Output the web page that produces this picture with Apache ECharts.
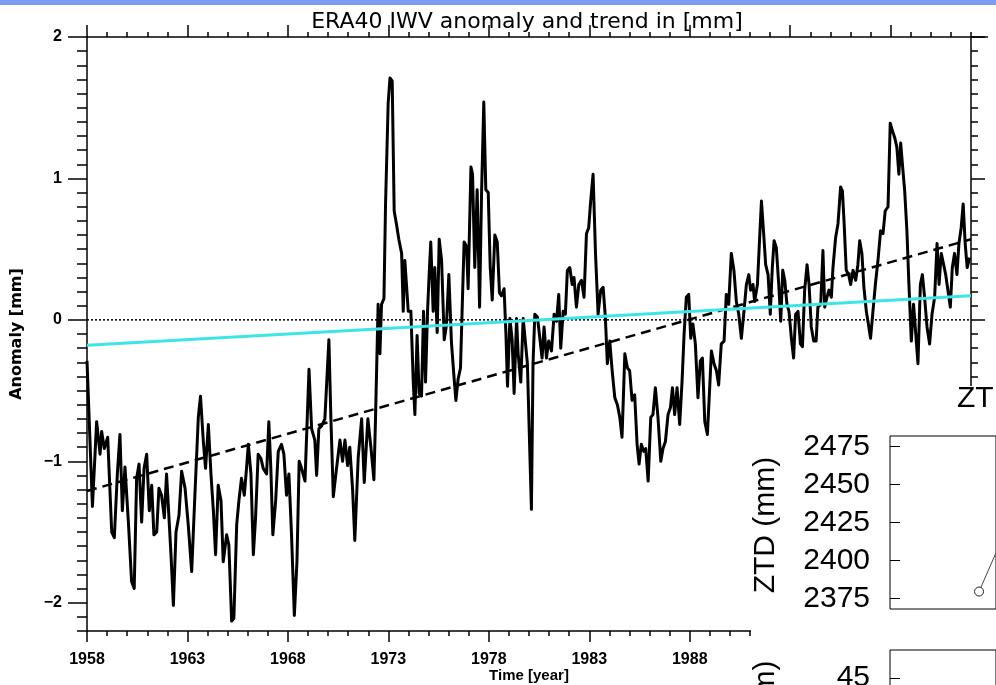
<!DOCTYPE html>
<html><head><meta charset="utf-8">
<script src="https://cdn.jsdelivr.net/npm/echarts@6/dist/echarts.min.js"></script>
<style>html,body{margin:0;padding:0;background:#fff}#c{width:996px;height:685px}</style>
</head><body><div id="c"></div>
<script>
// ERA40 IWV monthly anomaly [year, mm]
const seg1958 = [[1958.00,-0.29],[1958.27,-1.32],[1958.48,-0.72],[1958.65,-0.95],[1958.73,-0.79],[1958.86,-0.91],[1959.03,-0.83],[1959.23,-1.50],[1959.36,-1.54],[1959.51,-1.09],[1959.64,-0.81],[1959.76,-1.35],[1959.89,-1.04],[1960.06,-1.43],[1960.22,-1.85],[1960.35,-1.90],[1960.47,-1.12],[1960.59,-1.02],[1960.72,-1.43],[1960.84,-1.05],[1960.97,-0.95],[1961.10,-1.35],[1961.22,-1.17],[1961.33,-1.52],[1961.47,-1.50],[1961.58,-1.19],[1961.71,-1.24],[1961.85,-1.40],[1961.96,-1.09],[1962.08,-1.40],[1962.18,-1.66],[1962.30,-2.02],[1962.43,-1.50],[1962.58,-1.38],[1962.71,-1.07],[1962.88,-1.19],[1963.04,-1.45],[1963.21,-1.78],[1963.37,-1.24],[1963.54,-0.69],[1963.65,-0.54],[1963.79,-0.86],[1963.90,-1.05],[1964.04,-0.74],[1964.17,-1.09],[1964.29,-1.35],[1964.40,-1.66],[1964.53,-1.17],[1964.67,-1.28],[1964.78,-1.71],[1964.95,-1.52],[1965.06,-1.59],[1965.20,-2.13],[1965.31,-2.11],[1965.45,-1.45],[1965.56,-1.28],[1965.69,-1.12],[1965.83,-1.24],[1965.94,-1.05],[1966.03,-0.88],[1966.16,-1.09],[1966.28,-1.66],[1966.39,-1.40],[1966.52,-0.95],[1966.66,-0.98],[1966.77,-1.05],[1966.94,-1.09],[1967.05,-0.72],[1967.15,-1.05],[1967.25,-1.52],[1967.39,-1.28],[1967.52,-0.93],[1967.68,-0.88],[1967.80,-0.95],[1967.93,-1.24],[1968.05,-1.09],[1968.18,-1.52],[1968.32,-2.09],[1968.45,-1.71],[1968.56,-1.00],[1968.68,-1.05],[1968.85,-1.14]];
const seg1969 = [[1969.05,-0.35],[1969.18,-0.77],[1969.34,-0.85],[1969.43,-1.10],[1969.54,-0.77],[1969.68,-0.75],[1969.84,-0.70],[1970.04,-0.14],[1970.14,-0.70],[1970.26,-1.25],[1970.42,-1.05],[1970.59,-0.85],[1970.72,-1.00],[1970.84,-0.85],[1970.97,-1.03],[1971.08,-0.90],[1971.22,-1.20],[1971.33,-1.56],[1971.50,-0.97],[1971.67,-0.70],[1971.80,-1.15],[1971.91,-0.87],[1971.98,-0.70],[1972.13,-0.90],[1972.28,-1.13],[1972.36,-0.70],[1972.49,0.11],[1972.58,-0.24],[1972.66,0.11],[1972.78,0.15],[1972.86,0.82],[1972.99,1.53],[1973.08,1.71],[1973.19,1.69],[1973.29,0.77],[1973.41,0.67],[1973.52,0.57],[1973.66,0.47],[1973.74,0.06],[1973.82,0.42],[1973.90,0.42],[1973.99,0.06],[1974.12,0.06],[1974.24,-0.44],[1974.32,-0.67],[1974.43,-0.11],[1974.53,-0.52],[1974.65,-0.54],[1974.75,0.06],[1974.85,-0.44],[1974.95,0.06],[1975.03,0.32],[1975.11,0.55],[1975.23,0.06],[1975.31,0.37],[1975.43,-0.09],[1975.53,0.57],[1975.65,0.42],[1975.78,-0.14],[1975.89,-0.04],[1976.01,0.32],[1976.14,-0.16],[1976.26,-0.39],[1976.36,-0.57],[1976.47,-0.42],[1976.59,-0.34],[1976.67,0.06],[1976.77,0.55],[1976.89,0.52],[1976.97,0.22],[1977.11,1.08],[1977.19,1.03],[1977.30,0.37],[1977.42,0.92],[1977.54,0.09],[1977.64,0.90],[1977.75,1.54],[1977.85,0.92],[1977.97,0.90],[1978.07,0.37],[1978.17,0.14],[1978.30,0.60],[1978.42,0.55],[1978.53,0.19],[1978.63,0.17],[1978.76,0.22],[1978.85,-0.09],[1978.93,-0.47],[1979.05,0.01],[1979.16,-0.14],[1979.26,-0.52],[1979.38,0.01],[1979.46,-0.24],[1979.59,-0.44],[1979.71,0.01]];
const seg1980 = [[1979.92,-0.31],[1980.04,-0.93],[1980.12,-1.34],[1980.20,-0.31],[1980.29,0.04],[1980.42,0.02],[1980.54,-0.13],[1980.65,-0.27],[1980.75,-0.05],[1980.87,-0.27],[1980.98,-0.15],[1981.12,-0.22],[1981.25,0.04],[1981.37,-0.01],[1981.48,0.18],[1981.58,-0.20],[1981.70,0.06],[1981.81,0.04],[1981.91,0.35],[1982.03,0.37],[1982.15,0.25],[1982.24,0.30],[1982.36,0.09],[1982.48,0.25],[1982.61,0.28],[1982.74,0.16],[1982.86,0.61],[1982.97,0.65],[1983.07,0.84],[1983.19,1.03],[1983.31,0.47],[1983.44,0.04],[1983.57,0.21],[1983.69,0.23],[1983.80,0.02],[1983.90,-0.31],[1984.02,-0.15],[1984.14,-0.36],[1984.27,-0.55],[1984.40,-0.60],[1984.52,-0.69],[1984.63,-0.83],[1984.77,-0.24],[1984.90,-0.34],[1985.01,-0.36],[1985.13,-0.57],[1985.26,-0.53],[1985.38,-0.88],[1985.48,-1.02],[1985.59,-0.88],[1985.71,-0.93],[1985.81,-0.91],[1985.93,-1.14],[1986.06,-0.69],[1986.17,-0.67],[1986.29,-0.48],[1986.42,-0.69],[1986.56,-1.00],[1986.67,-0.91],[1986.79,-0.86],[1986.92,-0.67],[1987.04,-0.62],[1987.14,-0.48],[1987.25,-0.67],[1987.37,-0.48],[1987.50,-0.74],[1987.62,-0.43],[1987.72,-0.10],[1987.83,0.16],[1987.95,0.18],[1988.05,-0.13],[1988.16,-0.03],[1988.28,-0.17],[1988.41,-0.55],[1988.53,-0.29],[1988.63,-0.27],[1988.75,-0.72],[1988.88,-0.81],[1989.00,-0.46],[1989.08,-0.22],[1989.21,-0.31],[1989.33,-0.36],[1989.44,-0.46],[1989.57,-0.17],[1989.71,-0.15],[1989.82,0.18],[1989.94,0.11],[1990.07,0.47],[1990.20,0.35],[1990.32,0.13],[1990.44,0.04],[1990.57,-0.13],[1990.70,0.06],[1990.82,0.25]];
const seg1991 = [[1990.94,0.32],[1991.03,0.21],[1991.15,0.25],[1991.23,0.13],[1991.37,0.25],[1991.48,0.58],[1991.57,0.84],[1991.68,0.61],[1991.78,0.39],[1991.90,0.32],[1992.01,0.04],[1992.11,0.37],[1992.20,0.56],[1992.31,0.51],[1992.43,0.25],[1992.53,-0.01],[1992.63,0.35],[1992.73,0.28],[1992.84,0.11],[1992.94,0.06],[1993.06,-0.13],[1993.17,-0.27],[1993.27,0.04],[1993.39,0.06],[1993.51,-0.17],[1993.61,-0.19],[1993.72,0.21],[1993.84,0.39],[1993.94,0.25],[1994.05,-0.05],[1994.17,-0.15],[1994.29,-0.15],[1994.38,0.09],[1994.52,0.11],[1994.63,0.49],[1994.72,0.09],[1994.83,0.16],[1994.93,0.21],[1995.05,0.16],[1995.13,0.37],[1995.26,0.58],[1995.38,0.68],[1995.51,0.94],[1995.60,0.91],[1995.68,0.70],[1995.79,0.35],[1995.91,0.32],[1996.01,0.25],[1996.13,0.35],[1996.26,0.28],[1996.37,0.39],[1996.46,0.56],[1996.57,0.47],[1996.67,0.23],[1996.79,0.06],[1996.87,-0.01],[1997.00,-0.13],[1997.12,0.06],[1997.24,0.25],[1997.37,0.42],[1997.50,0.63],[1997.62,0.61],[1997.73,0.77],[1997.87,0.80],[1997.98,1.39],[1998.08,1.34],[1998.20,1.29],[1998.31,1.22],[1998.41,1.03],[1998.50,1.25],[1998.61,1.06],[1998.70,0.91],[1998.81,0.63],[1998.91,0.25],[1999.03,-0.15],[1999.14,0.11],[1999.24,-0.08],[1999.36,-0.31],[1999.48,0.25],[1999.58,0.32],[1999.69,0.16],[1999.81,-0.05],[1999.94,-0.17],[2000.06,0.04],[2000.19,0.16],[2000.31,0.54],[2000.41,0.25],[2000.52,0.47],[2000.64,0.39],[2000.74,0.32],[2000.85,0.21],[2000.97,0.09],[2001.07,0.37],[2001.18,0.47],[2001.30,0.32],[2001.40,0.54],[2001.51,0.65],[2001.61,0.82],[2001.71,0.54],[2001.81,0.37],[2001.93,0.44]];

const eraTrend  = [[1958,-1.21],[2002,0.57]];   // dashed linear trend
const cyanTrend = [[1958,-0.18],[2002,0.17]];   // cyan trend
const zeroLine  = [[1958,0],[2002,0]];

const xMajorTicks = [1958,1963,1968,1973,1978,1983,1988,1993,1998];
const yMajorTicks = [-2,-1,0,1,2];

// overlapping second figure (ZTD panel, partly visible)
const ztdTicks = [2375,2400,2425,2450,2475];
const ztdPoints = [[10.08,2379.5],[12,2405]];
const lowerTicks = [45];

const xMinorTicks = []; for (let y = 1958; y <= 2002; y++) xMinorTicks.push(y);
const yMinorTicks = []; for (let i = -22; i <= 20; i++) yMinorTicks.push(i / 10);

const iwvData = seg1958.concat(seg1969, seg1980, seg1991);

const BLK = '#000';
const tickFont = {fontFamily: 'Liberation Sans', fontWeight: 'bold', fontSize: 16, color: BLK};
const plain = v => String(v);
function xAx(pos, ticks, len, opts) {
  return Object.assign({
    gridIndex: 0, type: 'value', min: 1958, max: 2002, position: pos,
    axisLine: {show: false, onZero: false, lineStyle: {color: BLK, width: 1.5}},
    axisTick: {show: true, inside: false, length: len, customValues: ticks, lineStyle: {color: BLK, width: 1.5}},
    axisLabel: {show: false}, splitLine: {show: false}
  }, opts || {});
}
function yAx(pos, ticks, len, opts) {
  return Object.assign({
    gridIndex: 0, type: 'value', min: -2.2, max: 2, position: pos,
    axisLine: {show: false, onZero: false, lineStyle: {color: BLK, width: 1.5}},
    axisTick: {show: true, inside: false, length: len, customValues: ticks, lineStyle: {color: BLK, width: 1.5}},
    axisLabel: {show: false}, splitLine: {show: false}
  }, opts || {});
}

const chart = echarts.init(document.getElementById('c'), null, {renderer: 'canvas'});
chart.setOption({
  animation: false,
  backgroundColor: '#fff',
  title: {
    text: 'ERA40 IWV anomaly and trend in [mm]',
    left: 527, top: 11, padding: 0, textAlign: 'center',
    textStyle: {fontFamily: 'DejaVu Sans', fontSize: 22, fontWeight: 'normal', color: BLK}
  },
  grid: [
    {left: 87, top: 37, width: 884, height: 594, show: false, outerBoundsMode: 'none', containLabel: false},
    {left: 890, top: 436, width: 106, height: 173, show: true, borderColor: '#000', borderWidth: 1, backgroundColor: 'transparent', z: 20, outerBoundsMode: 'none', containLabel: false},
    {left: 890, top: 650, width: 106, height: 40, show: true, borderColor: '#000', borderWidth: 1, backgroundColor: 'transparent', z: 20, outerBoundsMode: 'none', containLabel: false}
  ],
  xAxis: [
    xAx('bottom', xMajorTicks, 11, {
      axisLine: {show: true, onZero: false, lineStyle: {color: BLK, width: 1.5}},
      axisLabel: Object.assign({show: true, customValues: xMajorTicks, margin: 21, formatter: plain}, tickFont),
      name: 'Time [year]', nameLocation: 'middle', nameGap: 37, nameMoveOverlap: false,
      nameTextStyle: {fontFamily: 'Liberation Sans', fontWeight: 'bold', fontSize: 15, color: BLK}
    }),
    xAx('bottom', xMinorTicks, 5),
    xAx('top', xMajorTicks, 12, {axisLine: {show: true, onZero: false, lineStyle: {color: BLK, width: 1.5}}}),
    xAx('top', xMinorTicks, 5),
    {gridIndex: 1, type: 'value', min: 0, max: 12, show: false},
    {gridIndex: 2, type: 'value', min: 0, max: 12, show: false}
  ],
  yAxis: [
    yAx('left', yMajorTicks, 19, {
      axisLine: {show: true, onZero: false, lineStyle: {color: BLK, width: 1.5}},
      axisLabel: Object.assign({show: true, customValues: yMajorTicks, margin: 25,
        formatter: v => (v < 0 ? '\u2212' + Math.abs(v) : String(v))}, tickFont),
      name: 'Anomaly [mm]', nameLocation: 'middle', nameGap: 62, nameMoveOverlap: false,
      nameTextStyle: {fontFamily: 'DejaVu Sans', fontWeight: 'bold', fontSize: 16, color: BLK}
    }),
    yAx('left', yMinorTicks, 10),
    yAx('right', yMajorTicks, 14, {axisLine: {show: true, onZero: false, lineStyle: {color: BLK, width: 1.5}}}),
    yAx('right', yMinorTicks, 7),
    {gridIndex: 1, type: 'value', min: 2368, max: 2482, position: 'left', z: 20,
      axisLine: {show: false},
      axisTick: {show: true, inside: true, length: 10, customValues: ztdTicks, lineStyle: {color: BLK, width: 1}},
      axisLabel: {show: true, customValues: ztdTicks, margin: 20, formatter: plain, fontFamily: 'Liberation Sans', fontSize: 30, color: BLK},
      splitLine: {show: false}},
    {gridIndex: 2, type: 'value', min: 42.86, max: 50, position: 'left', z: 20,
      axisLine: {show: false},
      axisTick: {show: true, inside: true, length: 10, customValues: lowerTicks, lineStyle: {color: BLK, width: 1}},
      axisLabel: {show: true, customValues: lowerTicks, margin: 20, formatter: plain, fontFamily: 'Liberation Sans', fontSize: 30, color: BLK},
      splitLine: {show: false}}
  ],
  series: [
    {type: 'line', xAxisIndex: 0, yAxisIndex: 0, data: zeroLine, symbol: 'none', z: 2,
      lineStyle: {color: BLK, width: 1.5, type: [2, 2]}},
    {type: 'line', xAxisIndex: 0, yAxisIndex: 0, data: iwvData, symbol: 'none', z: 3,
      lineStyle: {color: BLK, width: 3, join: 'round'}},
    {type: 'line', xAxisIndex: 0, yAxisIndex: 0, data: eraTrend, symbol: 'none', z: 4,
      lineStyle: {color: BLK, width: 2.5, type: [10, 6]}},
    {type: 'line', xAxisIndex: 0, yAxisIndex: 0, data: cyanTrend, symbol: 'none', z: 5,
      lineStyle: {color: '#3ce6e6', width: 3}},
    {type: 'line', xAxisIndex: 4, yAxisIndex: 4, z: 25,
      data: [ztdPoints[0], {value: ztdPoints[1], symbol: 'none'}],
      symbol: 'circle', symbolSize: 9, showAllSymbol: true,
      itemStyle: {color: '#fff', borderColor: '#222', borderWidth: 1},
      lineStyle: {color: '#444', width: 1}}
  ],
  graphic: [
    {type: 'rect', z: 10, shape: {x: 751, y: 386, width: 245, height: 299}, style: {fill: '#fff'}},
    {type: 'line', z: 10, shape: {x1: 971, y1: 37, x2: 988, y2: 37}, style: {stroke: BLK, lineWidth: 1.5}},
    {type: 'rect', z: 100, shape: {x: 0, y: 0, width: 996, height: 5}, style: {fill: '#7d9bf9'}},
    {type: 'text', z: 30, x: 957, y: 399,
      style: {text: 'ZT', fontFamily: 'Liberation Sans', fontSize: 30, fill: BLK, textAlign: 'left', textVerticalAlign: 'middle'}},
    {type: 'text', z: 30, x: 766, y: 525, rotation: Math.PI / 2,
      style: {text: 'ZTD (mm)', fontFamily: 'Liberation Sans', fontSize: 30, fill: BLK, textAlign: 'center', textVerticalAlign: 'middle'}},
    {type: 'text', z: 30, x: 766, y: 728, rotation: Math.PI / 2,
      style: {text: 'IWV (mm)', fontFamily: 'Liberation Sans', fontSize: 30, fill: BLK, textAlign: 'center', textVerticalAlign: 'middle'}}
  ]
});
</script></body></html>
